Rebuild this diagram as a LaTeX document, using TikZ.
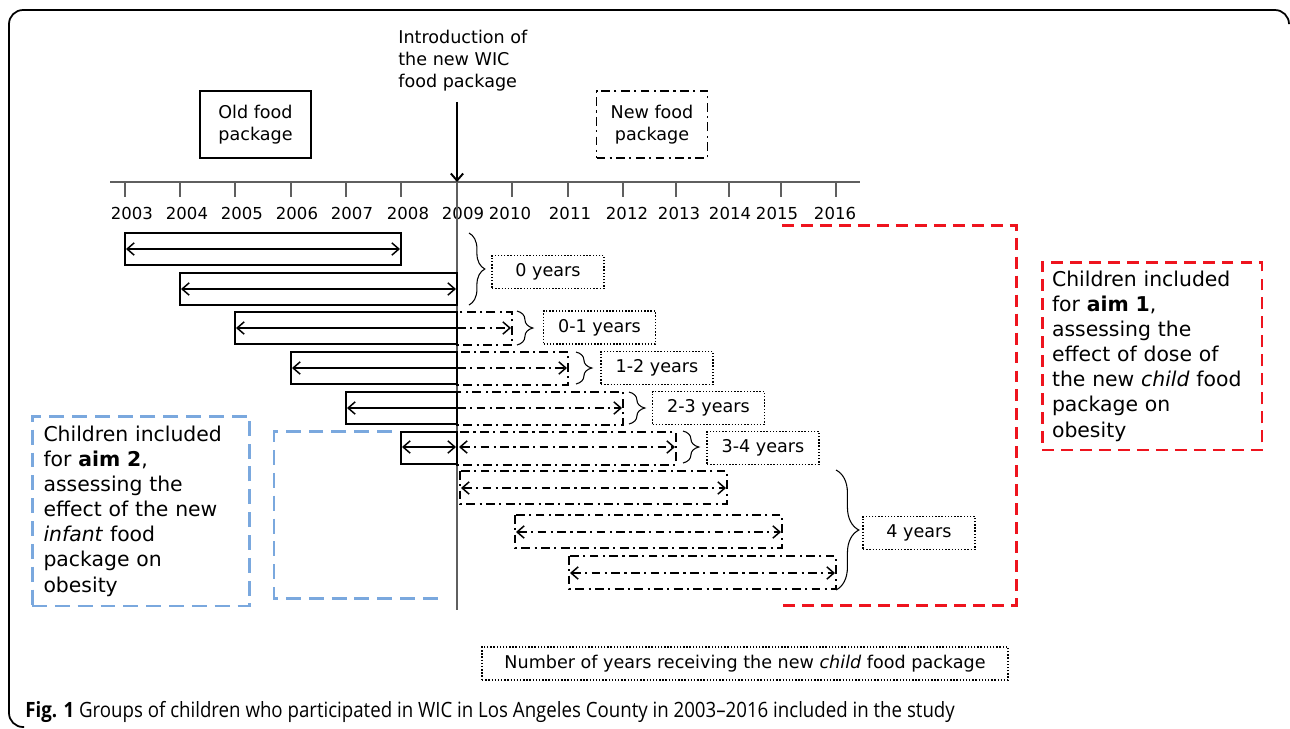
\documentclass[tikz,border=0pt]{standalone}
\usepackage{fontspec}
\setmainfont{DejaVu Sans}
\newfontfamily\capfont[FakeStretch=0.885]{Open Sans}
\usetikzlibrary{arrows.meta,decorations.pathreplacing}
\definecolor{axisgray}{RGB}{95,95,95}
\definecolor{aimred}{RGB}{238,20,30}
\definecolor{aimblue}{RGB}{122,168,222}

\begin{document}
\begin{tikzpicture}[x=0.02cm, y=-0.02cm,
        >={Straight Barb[length=4pt, width=7pt]},
        txt/.style={font=\fontsize{10}{12.4}\selectfont},
        yearlbl/.style={font=\fontsize{9.4}{11}\selectfont, inner sep=0pt},
        axis/.style={draw=axisgray, line width=1.1pt},
        dashdot/.style={dash pattern=on 5pt off 2.5pt on 1.2pt off 2.5pt},
        pkg/.style={draw, line width=1.1pt, minimum width=2.22cm, minimum height=1.34cm, align=center, txt},
        oldbar/.style={draw, line width=1.1pt},
        newbar/.style={draw, line width=1.1pt, dashdot},
        oldspan/.style={line width=0.85pt},
        newspan/.style={line width=0.85pt, dashdot},
        brc/.style={decorate, decoration={brace, amplitude=9pt}, line width=0.6pt},
        yrs/.style={draw, densely dotted, line width=0.8pt, minimum width=2.24cm, minimum height=0.66cm, txt},
        redline/.style={draw=aimred, line width=1.7pt, dash pattern=on 6.8pt off 4pt},
        blueline/.style={draw=aimblue, line width=1.7pt, dash pattern=on 8.5pt off 4.5pt},
        aimbox/.style={font=\fontsize{11.6}{14.3}\selectfont, align=left}
    ]

    \useasboundingbox (0,0) rectangle (1290,728);

    % outer frame
    \draw[rounded corners=8pt, line width=1pt] (24,727) -- (9,727) -- (9,10) -- (1289,10) -- (1289,24);

    % old and new food package
    \node[pkg] (oldpkg) at (255.5,124.5) {Old food\\package};
    \node[pkg, dashdot] (newpkg) at (652,124.5) {New food\\package};

    % axis with year ticks
    \draw[axis] (110,182) -- (860,182);
    \foreach \yr/\x/\lx in {2003/125/132, 2004/180/187, 2005/235/242, 2006/291/297,
                            2007/346/352, 2008/401/408, 2009/457/463, 2010/512/510,
                            2011/568/570, 2012/623/627, 2013/676/679, 2014/729/730,
                            2015/781/777, 2016/836/835} {
        \draw[axis] (\x,182) -- (\x,197);
        \node[yearlbl] (lbl\yr) at (\lx,213) {\yr};
    }
    \coordinate (t2009) at (457,182);
    \coordinate (vend) at (457,610);

    % introduction of the new package
    \node[txt, align=left, anchor=north west, inner sep=0pt] (intro) at (398,30) {Introduction of\\the new WIC\\food package};
    \draw[line width=1.1pt, ->, shorten <=6pt] (intro.south -| t2009) -- (t2009);
    \draw[draw=axisgray, line width=0.7pt] (t2009) -- (vend);

    % old food package, solid bars
    \foreach \a/\b/\t in {125/401/233, 180/457/273, 235/457/312, 291/457/352, 346/457/392, 401/457/432}
        \draw[oldbar] (\a,\t) rectangle (\b,\t+32);

    % new food package, dash-dot bars
    \foreach \a/\b/\t in {457/512/312, 457/568/352, 457/623/392, 457/676/432, 460/727/471, 515/782/515, 569/836/556}
        \draw[newbar] (\a,\t) rectangle (\b,\t+33);

    % spans
    \draw[oldspan, <->] (126,249) -- (400,249);
    \draw[oldspan, <->] (181,289) -- (456,289);
    \foreach \a/\b/\m in {235/511/328, 291/567/368, 346/622/408} {
        \draw[oldspan, <-] (\a+1,\m) -- (457,\m);
        \draw[newspan, ->] (457,\m) -- (\b,\m);
    }
    \draw[oldspan, <->] (402,447) -- (456,447);
    \draw[newspan, <->] (459,447) -- (675,447);
    \foreach \a/\b/\m in {461/726/488, 516/781/532, 570/835/573}
        \draw[newspan, <->] (\a,\m) -- (\b,\m);

    % braces and years with the new child package
    \draw[brc] (469,233) -- (469,305);
    \node[yrs] (yrs0) at (548,272) {0 years};
    \draw[brc] (517,311) -- (517,345);
    \node[yrs] (yrs1) at (599.5,327.5) {0-1 years};
    \draw[brc] (576,352) -- (576,384);
    \node[yrs] (yrs2) at (657,368) {1-2 years};
    \draw[brc] (629,392) -- (629,424);
    \node[yrs] (yrs3) at (708.5,408) {2-3 years};
    \draw[brc] (683,431) -- (683,463);
    \node[yrs] (yrs4) at (763,448) {3-4 years};
    \draw[brc, decoration={amplitude=13pt}] (836,470) -- (836,590);
    \node[yrs] (yrs5) at (919,533) {4 years};

    % aim 1 (red) and aim 2 (blue)
    \draw[redline] (782,225) -- (1016,225) -- (1016,605) -- (782,605);
    \node[aimbox, redline, text width=4cm, inner xsep=0.2cm, minimum height=3.76cm] (aimone) at (1152,356)
        {Children included\\for \textbf{aim 1},\\assessing the\\effect of dose of\\the new \textit{child} food\\package on\\obesity};
    \draw[blueline] (392,431) -- (274,431) -- (274,598) -- (442,598);
    \node[aimbox, blueline, text width=3.9cm, inner xsep=0.23cm, minimum height=3.8cm] (aimtwo) at (141,511)
        {Children included\\for \textbf{aim 2},\\assessing the\\effect of the new\\\textit{infant} food\\package on\\obesity};

    % bottom label and caption
    \node[yrs, minimum width=10.52cm] (nyears) at (745,663.5) {Number of years receiving the new \textit{child} food package};
    \node[anchor=west, inner sep=0pt, font=\capfont\fontsize{12}{14}\selectfont] (caption) at (25,712)
        {\textbf{Fig. 1} Groups of children who participated in WIC in Los Angeles County in 2003–2016 included in the study};

\end{tikzpicture}
\end{document}
